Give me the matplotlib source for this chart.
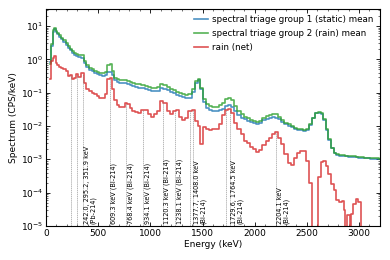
import numpy as np
import matplotlib
matplotlib.use("Agg")
import matplotlib.pyplot as plt
from matplotlib.ticker import AutoMinorLocator

# Bin centres (keV)
energy_kev = [
    40, 55, 70, 85, 100, 115, 135, 155, 175, 200,
    220, 240, 260, 280, 300, 320, 350, 375, 400, 425,
    450, 475, 500, 525, 550, 575, 600, 620, 640, 665,
    690, 715, 740, 765, 790, 815, 840, 870, 900, 930,
    960, 990, 1020, 1050, 1080, 1110, 1140, 1170, 1200, 1230,
    1260, 1290, 1320, 1350, 1380, 1410, 1440, 1465, 1490, 1520,
    1550, 1580, 1610, 1640, 1670, 1700, 1730, 1760, 1790, 1820,
    1850, 1880, 1910, 1940, 1970, 2000, 2030, 2060, 2090, 2120,
    2150, 2180, 2210, 2240, 2270, 2300, 2330, 2360, 2390, 2420,
    2450, 2480, 2510, 2535, 2560, 2590, 2620, 2645, 2670, 2695,
    2720, 2745, 2770, 2795, 2820, 2845, 2860, 2875, 2890, 2905,
    2920, 2935, 2955, 2980, 3005, 3030, 3060, 3090, 3120, 3150,
    3180, 3210,
]

# log10 of spectrum (CPS/keV)
rain_log10 = [
    -0.15, 0.45, 0.88, 0.94, 0.86, 0.80, 0.72, 0.65, 0.57, 0.48,
    0.40, 0.32, 0.25, 0.20, 0.15, 0.12, 0.12, -0.05, -0.18, -0.25,
    -0.30, -0.34, -0.38, -0.41, -0.42, -0.37, -0.17, -0.15, -0.35, -0.55,
    -0.60, -0.62, -0.63, -0.62, -0.64, -0.67, -0.70, -0.73, -0.75, -0.77,
    -0.80, -0.84, -0.86, -0.86, -0.82, -0.74, -0.76, -0.84, -0.90, -0.93,
    -0.97, -1.00, -1.03, -1.06, -1.05, -0.90, -0.65, -0.60, -0.85, -1.20,
    -1.35, -1.40, -1.42, -1.42, -1.38, -1.30, -1.20, -1.16, -1.22, -1.40,
    -1.55, -1.65, -1.72, -1.77, -1.82, -1.85, -1.88, -1.84, -1.76, -1.70,
    -1.66, -1.64, -1.65, -1.72, -1.82, -1.90, -1.95, -2.00, -2.05, -2.08,
    -2.10, -2.12, -2.08, -1.95, -1.75, -1.60, -1.58, -1.62, -1.80, -2.10,
    -2.40, -2.65, -2.80, -2.85, -2.87, -2.88, -2.88, -2.89, -2.89, -2.90,
    -2.90, -2.91, -2.91, -2.92, -2.93, -2.94, -2.95, -2.95, -2.96, -2.97,
    -2.97, -2.98,
]

static_log10 = [
    -0.08, 0.40, 0.83, 0.90, 0.82, 0.75, 0.67, 0.60, 0.52, 0.43,
    0.35, 0.27, 0.20, 0.14, 0.09, 0.06, 0.04, -0.12, -0.24, -0.31,
    -0.36, -0.40, -0.44, -0.47, -0.49, -0.47, -0.38, -0.37, -0.47, -0.62,
    -0.68, -0.70, -0.72, -0.72, -0.74, -0.76, -0.79, -0.82, -0.85, -0.87,
    -0.90, -0.93, -0.95, -0.96, -0.94, -0.87, -0.88, -0.93, -0.99, -1.02,
    -1.07, -1.10, -1.13, -1.17, -1.15, -0.97, -0.70, -0.62, -0.88, -1.28,
    -1.45, -1.52, -1.54, -1.55, -1.52, -1.48, -1.40, -1.38, -1.42, -1.55,
    -1.67, -1.75, -1.80, -1.85, -1.88, -1.91, -1.93, -1.90, -1.83, -1.78,
    -1.75, -1.74, -1.76, -1.80, -1.88, -1.95, -2.00, -2.04, -2.08, -2.11,
    -2.13, -2.15, -2.12, -1.97, -1.77, -1.62, -1.60, -1.64, -1.82, -2.12,
    -2.42, -2.67, -2.82, -2.87, -2.89, -2.90, -2.90, -2.91, -2.91, -2.92,
    -2.92, -2.93, -2.93, -2.94, -2.95, -2.96, -2.97, -2.97, -2.98, -2.99,
    -2.99, -3.00,
]

# net = rain - static; NaN marks bins where the net is not positive
N = np.nan
net_log10 = [
    -0.60, -0.05, 0.05, 0.10, -0.10, -0.18, -0.22, -0.26, -0.30, -0.35,
    -0.50, -0.47, -0.58, -0.55, -0.45, -0.52, -0.42, -0.70, -0.90, -0.95,
    -1.00, -1.05, -1.10, -1.15, -1.17, -1.05, -0.60, -0.55, -0.90, -1.23,
    -1.38, -1.43, -1.42, -1.30, -1.33, -1.45, -1.55, -1.58, -1.60, -1.52,
    -1.53, -1.65, -1.73, -1.65, -1.55, -1.25, -1.30, -1.55, -1.63, -1.55,
    -1.53, -1.72, -1.82, -1.75, -1.55, -1.53, -1.85, -2.00, -2.53, -2.03,
    -2.10, -2.13, -2.10, -2.08, -1.95, -1.68, -1.52, -1.48, -1.60, -1.90,
    -2.10, -2.25, -2.45, -2.50, -2.62, -2.70, -2.78, -2.72, -2.58, -2.45,
    -2.35, -2.25, -2.18, -2.35, -2.55, -2.85, -3.10, -3.18, -2.95, -2.82,
    -2.76, -2.74, -3.05, -3.72, N, N, -3.53, -3.08, -3.05, -3.20,
    -3.45, -3.73, -3.93, -4.23, -4.28, -4.25, -4.53, N, -4.68, -4.68,
    N, -4.63, -4.33, -4.18, -4.28, N, N, N, N, N,
    N, N,
]

line_energies = [242.0, 295.2, 351.9, 609.3, 768.4, 934.1, 1120.3, 1238.1,
                 1377.7, 1408.0, 1729.6, 1764.5, 2204.1]
label_energies = [351.9, 609.3, 768.4, 934.1, 1120.3, 1238.1, 1408.0, 1764.5, 2204.1]
label_texts = [
    "242.0, 295.2, 351.9 keV\n(Pb-214)",
    "609.3 keV (Bi-214)",
    "768.4 keV (Bi-214)",
    "934.1 keV (Bi-214)",
    "1120.3 keV (Bi-214)",
    "1238.1 keV (Bi-214)",
    "1377.7, 1408.0 keV\n(Bi-214)",
    "1729.6, 1764.5 keV\n(Bi-214)",
    "2204.1 keV\n(Bi-214)",
]

E = np.array(energy_kev, dtype=float)
rain = 10.0 ** np.array(rain_log10)
static = 10.0 ** np.array(static_log10)
net_l = np.array(net_log10, dtype=float)
net = np.where(np.isnan(net_l), 0.0, 10.0 ** np.nan_to_num(net_l, nan=-9))

fig = plt.figure(figsize=(3.9, 2.6), dpi=100)
ax = fig.add_axes([0.118, 0.131, 0.856, 0.833])

ax.plot(E, static, drawstyle="steps-mid", color="tab:blue", alpha=0.8, lw=1.2,
        label="spectral triage group 1 (static) mean")
ax.plot(E, rain, drawstyle="steps-mid", color="tab:green", alpha=0.8, lw=1.2,
        label="spectral triage group 2 (rain) mean")
ax.plot(E, net, drawstyle="steps-mid", color="tab:red", alpha=0.8, lw=1.2,
        label="rain (net)")

ax.set_yscale("log", nonpositive="clip")
ax.set_xlim(0, 3200)
ax.set_ylim(1e-5, 10 ** 1.5)

# peak marker lines up to the net spectrum
valid = ~np.isnan(net_l)
for e in line_energies:
    top = 10 ** np.interp(e, E[valid], net_l[valid])
    ax.plot([e, e], [1e-5, top], color="0.45", lw=0.5, ls=(0, (2, 1)), alpha=0.7)

for e, t in zip(label_energies, label_texts):
    ax.text(e + 8, 1.12e-5, t, rotation=90, ha="left", va="bottom",
            fontsize=4.7, linespacing=1.05)

ax.set_xlabel("Energy (keV)", fontsize=6.5, labelpad=2)
ax.set_ylabel("Spectrum (CPS/keV)", fontsize=6.5, labelpad=2)
ax.xaxis.set_minor_locator(AutoMinorLocator(5))
ax.tick_params(which="both", direction="in", top=True, right=True, labelsize=6.5)
ax.tick_params(which="major", length=3, width=0.6, pad=2)
ax.tick_params(which="minor", length=1.5, width=0.4)
for s in ax.spines.values():
    s.set_linewidth(0.8)

ax.legend(loc="upper right", fontsize=6.3, frameon=False, handlelength=1.6,
          borderaxespad=0.3, labelspacing=0.55, handletextpad=0.5)

fig.savefig("out.png", dpi=100)
